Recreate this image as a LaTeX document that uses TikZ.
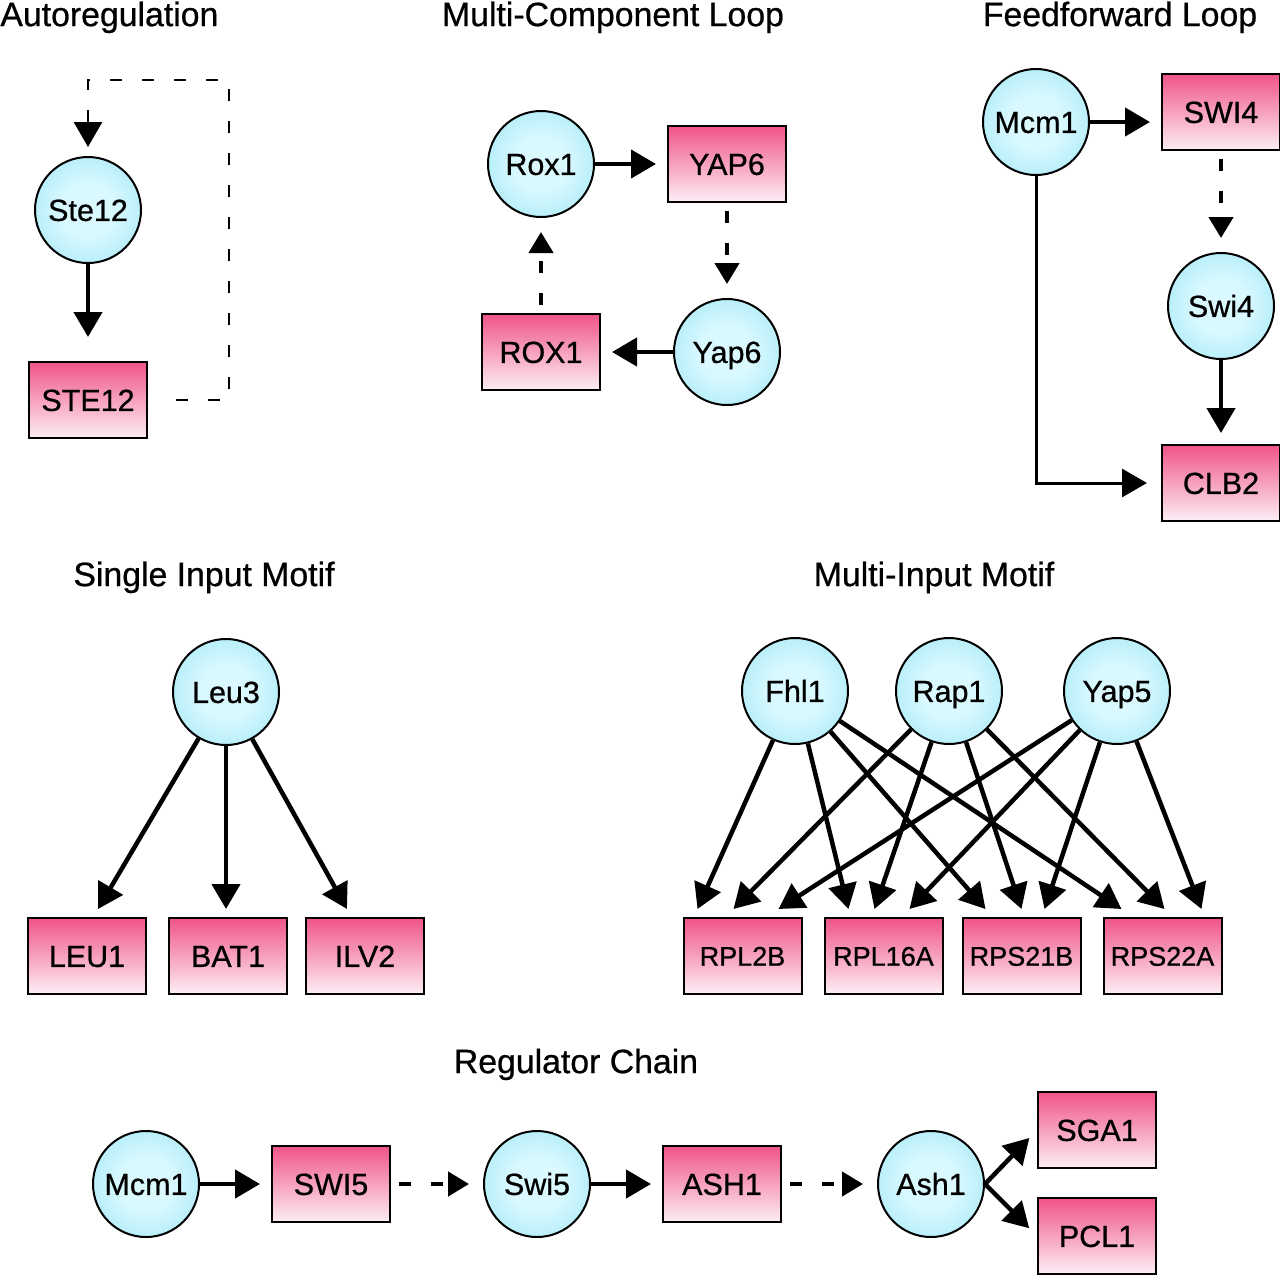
\documentclass[tikz,border=0pt]{standalone}
\usepackage{fontspec}
\setmainfont{Liberation Sans}[FakeBold=0.7]
\usetikzlibrary{arrows.meta,calc}

\definecolor{ballin}{RGB}{218,249,255}
\definecolor{ballout}{RGB}{122,220,241}
\definecolor{boxtop}{RGB}{240,84,136}
\definecolor{boxbot}{RGB}{253,238,246}
\pgfdeclareradialshading{ball}{\pgfpointorigin}{color(0bp)=(ballin); color(12bp)=(ballin); color(50bp)=(ballout)}

\tikzset{
  prot/.style={circle,draw,line width=1pt,minimum size=53pt,inner sep=0pt,
    shade,shading=ball,font=\fontsize{15.25}{18}\selectfont,text height=10.9pt,text depth=0pt},
  gene/.style={rectangle,draw,line width=1pt,minimum width=59pt,minimum height=38pt,inner sep=0pt,
    top color=boxtop,bottom color=boxbot,font=\fontsize{15.25}{18}\selectfont,text height=10.9pt,text depth=0pt},
  sgene/.style={gene,font=\fontsize{13.5}{16}\selectfont,text height=9.7pt},
  title/.style={font=\fontsize{16.9}{20}\selectfont,inner sep=0pt,text height=12.1pt,text depth=0pt},
  tip/.style={line width=2.25pt,-{Triangle[length=12.5pt,width=14pt]}},
  act/.style={tip,shorten >=5.5pt},
  dact/.style={line width=2.25pt,dash pattern=on 6pt off 10pt,
    -{Triangle[length=10.5pt,width=12pt]},shorten <=4pt,shorten >=7pt},
  link/.style={line width=1.5pt,-{Triangle[length=12.5pt,width=14pt]},shorten >=7pt},
  fbk/.style={line width=1.4pt,dash pattern=on 6pt off 10pt,
    -{Triangle[length=12.5pt,width=14pt]},shorten >=4.5pt},
}

% one arrow of the multi-input motif: regulator, target box, tip offset
\def\hit#1#2#3{%
  \draw[tip] (#1) -- ($(#2.north west)+(#3,-8)$);
}

\begin{document}
\begin{tikzpicture}[x=0.5pt,y=-0.5pt]
\useasboundingbox (0,0) rectangle (1280,1275);

% titles
\draw (0,14) node[title,anchor=west] (t1) {Autoregulation};
\draw (613,14) node[title] (t2) {Multi-Component Loop};
\draw (1120,14) node[title] (t3) {Feedforward Loop};
\draw (204,574) node[title] (t4) {Single Input Motif};
\draw (934,574) node[title] (t5) {Multi-Input Motif};
\draw (576,1061) node[title] (t6) {Regulator Chain};

% autoregulation
\draw (88,210) node[prot] (pSte12) {Ste12};
\draw (88,400) node[gene] (gSTE12) {STE12};
\coordinate (back) at (229,80);
\draw[act,shorten >=12pt] (pSte12) -- (gSTE12);
\draw[fbk] ([xshift=14pt]gSTE12.east) -| (back) -| (pSte12);

% multi-component loop
\draw (541,164) node[prot] (pRox1) {Rox1};
\draw (727,164) node[gene] (gYAP6) {YAP6};
\draw (727,352) node[prot] (pYap6) {Yap6};
\draw (541,352) node[gene] (gROX1) {ROX1};
\draw[act] (pRox1) -- (gYAP6);
\draw[dact] (gYAP6) -- (pYap6);
\draw[act] (pYap6) -- (gROX1);
\draw[dact] (gROX1) -- (pRox1);

% feedforward loop
\draw (1036,122) node[prot] (pMcm1) {Mcm1};
\draw (1221,112) node[gene] (gSWI4) {SWI4};
\draw (1221,306) node[prot] (pSwi4) {Swi4};
\draw (1221,483) node[gene] (gCLB2) {CLB2};
\draw[act] (pMcm1) -- (pMcm1 -| gSWI4.west);
\draw[dact] (gSWI4) -- (pSwi4);
\draw[act] (pSwi4) -- (gCLB2);
\draw[link] (pMcm1) |- (gCLB2);

% single input motif
\draw (226,692) node[prot] (pLeu3) {Leu3};
\draw (87,956) node[gene] (gLEU1) {LEU1};
\draw (228,956) node[gene] (gBAT1) {BAT1};
\draw (365,956) node[gene] (gILV2) {ILV2};
\draw[tip] (pLeu3) -- ($(gLEU1.north)+(11,-8)$);
\draw[tip] (pLeu3) -- ($(gBAT1.north)+(-2,-8)$);
\draw[tip] (pLeu3) -- ($(gILV2.north)+(-18,-8)$);

% multi-input motif
\draw (795,691) node[prot] (pFhl1) {Fhl1};
\draw (949,691) node[prot] (pRap1) {Rap1};
\draw (1117,691) node[prot] (pYap5) {Yap5};
\draw (742.5,956) node[sgene] (gRPL2B) {RPL2B};
\draw (883.5,956) node[sgene] (gRPL16A) {RPL16A};
\draw (1021.5,956) node[sgene] (gRPS21B) {RPS21B};
\draw (1162.5,956) node[sgene] (gRPS22A) {RPS22A};
\hit{pFhl1}{gRPL2B}{15}   \hit{pRap1}{gRPL2B}{51}   \hit{pYap5}{gRPL2B}{96}
\hit{pFhl1}{gRPL16A}{25}  \hit{pRap1}{gRPL16A}{51}  \hit{pYap5}{gRPL16A}{86}
\hit{pFhl1}{gRPS21B}{24}  \hit{pRap1}{gRPS21B}{60}  \hit{pYap5}{gRPS21B}{83}
\hit{pFhl1}{gRPS22A}{19}  \hit{pRap1}{gRPS22A}{62}  \hit{pYap5}{gRPS22A}{99}

% regulator chain
\draw (146,1184) node[prot] (pMcm1b) {Mcm1};
\draw (331,1184) node[gene] (gSWI5) {SWI5};
\draw (537,1184) node[prot] (pSwi5) {Swi5};
\draw (722,1184) node[gene] (gASH1) {ASH1};
\draw (931,1184) node[prot] (pAsh1) {Ash1};
\draw (1097,1130) node[gene] (gSGA1) {SGA1};
\draw (1097,1236) node[gene] (gPCL1) {PCL1};
\draw[act] (pMcm1b) -- (gSWI5);
\draw[dact] (gSWI5) -- (pSwi5);
\draw[act] (pSwi5) -- (gASH1);
\draw[dact] (gASH1) -- (pAsh1);
\draw[act] (pAsh1.east) -- (gSGA1.west);
\draw[act] (pAsh1.east) -- (gPCL1.west);
\end{tikzpicture}
\end{document}
